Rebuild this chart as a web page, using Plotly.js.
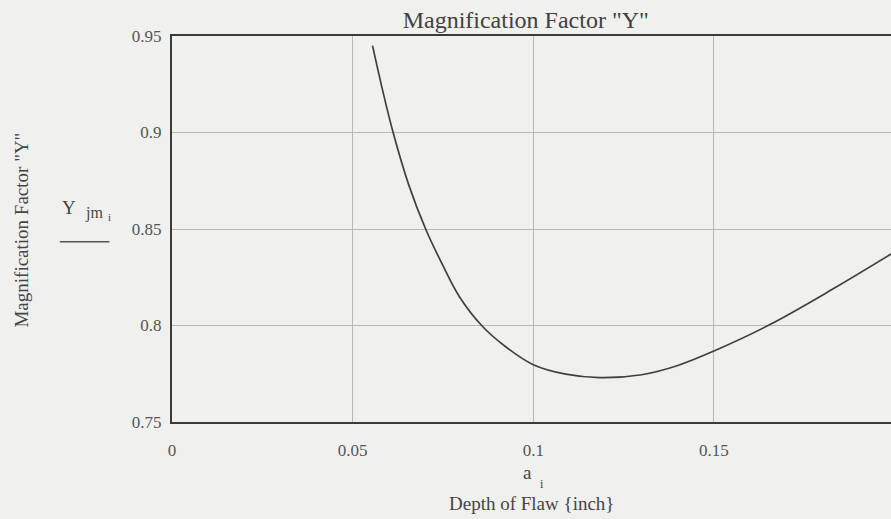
<!DOCTYPE html>
<html>
<head>
<meta charset="utf-8">
<script src="https://cdn.plot.ly/plotly-3.0.1.min.js"></script>
<style>
  html, body { margin: 0; padding: 0; background: #f0f0ee; overflow: hidden; }
  #chart { width: 891px; height: 519px; }
</style>
</head>
<body>
<div id="chart"></div>
<script>
// Flaw depth a_i (inch) and magnification factor Y_jm_i
const depth = [0.0555, 0.0584, 0.0612, 0.0655, 0.0702, 0.0750, 0.0796, 0.0857, 0.0920,
               0.1000, 0.1090, 0.1184, 0.1300, 0.1400, 0.1500, 0.1655, 0.1830, 0.1990];
const yFactor = [0.945, 0.921, 0.900, 0.873, 0.850, 0.831, 0.8148, 0.800, 0.7895,
                 0.7797, 0.7748, 0.7730, 0.7745, 0.7793, 0.7868, 0.8005, 0.819, 0.837];

const xTicks = [0, 0.05, 0.1, 0.15];
const xTickText = ['0', '0.05', '0.1', '0.15'];
const yTicks = [0.75, 0.8, 0.85, 0.9, 0.95];
const yTickText = ['0.75', '0.8', '0.85', '0.9', '0.95'];

const serif = 'Liberation Serif, Times New Roman, serif';
const ink = '#3a3a3a';
const textInk = '#454545';

const trace = {
  x: depth,
  y: yFactor,
  type: 'scatter',
  mode: 'lines',
  line: { color: '#404040', width: 1.7, shape: 'spline', smoothing: 1 },
  hoverinfo: 'x+y'
};

function label(text, x, y, size) {
  return {
    text: text, xref: 'paper', yref: 'paper', x: x, y: y,
    xanchor: 'center', yanchor: 'middle', showarrow: false,
    font: { family: serif, size: size, color: textInk }
  };
}

const yTitle = label('Magnification Factor "Y"', -0.2095, 0.497, 19);
yTitle.textangle = -90;

const layout = {
  width: 891,
  height: 519,
  margin: { l: 172, r: 0, t: 36, b: 97 },
  paper_bgcolor: '#f0f0ee',
  plot_bgcolor: '#f0f0ee',
  showlegend: false,
  title: {
    text: 'Magnification Factor "Y"',
    font: { family: serif, size: 24, color: '#404040' },
    xref: 'paper', x: 0.492, xanchor: 'center',
    y: 0.962, yanchor: 'middle'
  },
  xaxis: {
    range: [0, 0.199],
    tickvals: xTicks,
    ticktext: xTickText,
    showgrid: true,
    gridcolor: '#b8b8b6',
    gridwidth: 1,
    zeroline: false,
    showline: true,
    linecolor: ink,
    linewidth: 2,
    mirror: true,
    ticks: '',
    ticklabelstandoff: 12,
    tickfont: { family: serif, size: 17, color: '#555' }
  },
  yaxis: {
    range: [0.75, 0.95],
    tickvals: yTicks,
    ticktext: yTickText,
    showgrid: true,
    gridcolor: '#b8b8b6',
    gridwidth: 1,
    zeroline: false,
    showline: true,
    linecolor: ink,
    linewidth: 2,
    ticks: '',
    ticklabelstandoff: 5,
    tickfont: { family: serif, size: 17, color: '#555' }
  },
  annotations: [
    label('a', 0.4948, -0.130, 19),
    label('i', 0.5143, -0.160, 12),
    label('Depth of Flaw {inch}', 0.4997, -0.210, 19),
    yTitle,
    label('Y', -0.1427, 0.556, 19),
    label('jm', -0.108, 0.542, 16),
    label('i', -0.0865, 0.531, 11)
  ],
  shapes: [
    {
      type: 'line', xref: 'paper', yref: 'paper',
      x0: -0.156, x1: -0.087, y0: 0.467, y1: 0.467,
      line: { color: '#555', width: 1.5 }
    }
  ]
};

Plotly.newPlot('chart', [trace], layout, { displayModeBar: false, staticPlot: true });
</script>
</body>
</html>
